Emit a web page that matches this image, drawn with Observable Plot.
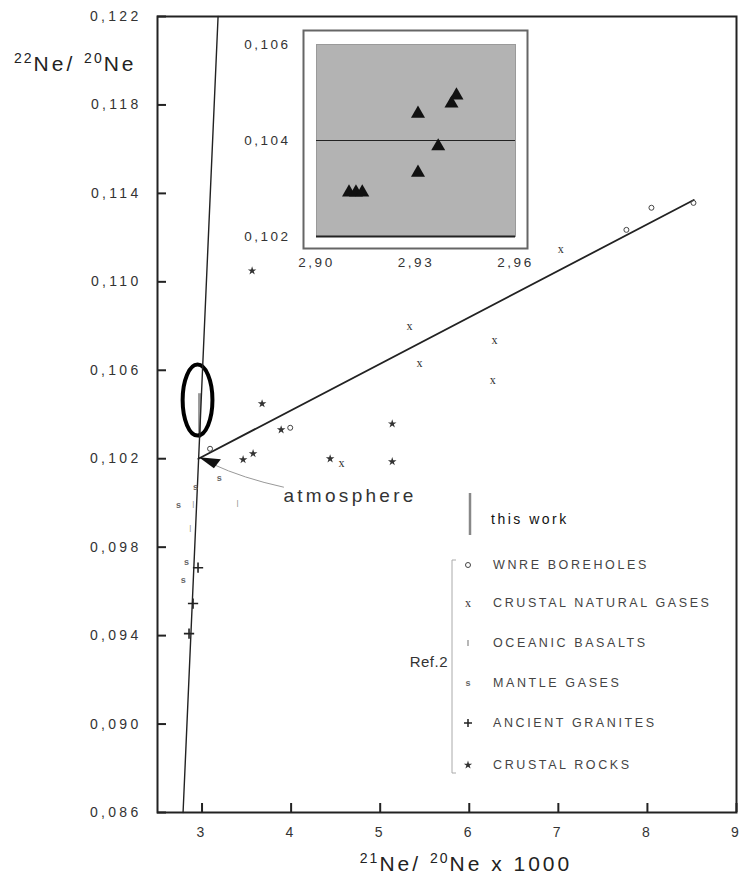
<!DOCTYPE html>
<html>
<head>
<meta charset="utf-8">
<script src="https://cdn.jsdelivr.net/npm/d3@7"></script>
<script src="https://cdn.jsdelivr.net/npm/@observablehq/plot@0.6"></script>
<style>
  html, body { margin: 0; padding: 0; background: #fff; overflow: hidden; }
  #wrap { position: relative; width: 740px; height: 879px; }
  #wrap > svg#main { position: absolute; left: 0; top: 0; }
  #wrap > svg#inset { position: absolute; left: 250px; top: 28px; }
  .title { position: absolute; font-family: "Liberation Sans", Arial, sans-serif; color: #222;
           white-space: nowrap; font-size: 21px; letter-spacing: 3px; line-height: 21px; }
  .title .sup { font-size: 14px; position: relative; top: -8px; letter-spacing: 2px; }
</style>
</head>
<body>
<div id="wrap"></div>
<script>
// Atmospheric neon composition (21Ne/20Ne x 1000, 22Ne/20Ne)
const atmosphere = {x: 2.959, y: 0.102};

// Mass-fractionation line and atmosphere–crust mixing line
const fractionationX = [2.787, 3.18];
const fractionationY = [0.086, 0.122];
const mixingX = [2.959, 8.52];
const mixingY = [0.102, 0.1137];

// Reference data (Ref. 2)
const groups = ["WNRE BOREHOLES", "CRUSTAL NATURAL GASES", "OCEANIC BASALTS",
                "MANTLE GASES", "ANCIENT GRANITES", "CRUSTAL ROCKS"];
const wnreX = [3.99, 3.09, 7.764, 8.045, 8.517];
const wnreY = [0.1034, 0.10245, 0.11235, 0.11335, 0.11357];
const gasX = [5.348, 5.461, 6.303, 6.281, 7.045, 4.584];
const gasY = [0.10801, 0.10630, 0.10734, 0.10557, 0.11149, 0.10182];
const basaltX = [3.416, 2.921, 2.888];
const basaltY = [0.10001, 0.09997, 0.09888];
const mantleX = [3.213, 2.753, 2.944, 2.843, 2.809];
const mantleY = [0.10114, 0.09988, 0.10073, 0.09734, 0.09653];
const graniteX = [2.955, 2.899, 2.854];
const graniteY = [0.09707, 0.09545, 0.09409];
const rockX = [3.674, 3.888, 3.461, 3.573, 4.438, 5.135, 5.135, 3.562];
const rockY = [0.10449, 0.10331, 0.10196, 0.10223, 0.10200, 0.10358, 0.10187, 0.1105];

// This work
const thisWorkX = [2.9098, 2.9119, 2.9138, 2.9306, 2.9367, 2.9306, 2.9407, 2.9422];
const thisWorkY = [0.10292, 0.10292, 0.10292, 0.10333, 0.10388, 0.10456, 0.10477, 0.10494];

// Ticks
const xTicks = [3, 4, 5, 6, 7, 8, 9];
const yTicks = [0.086, 0.090, 0.094, 0.098, 0.102, 0.106, 0.110, 0.114, 0.118, 0.122];
const insetXTicks = [2.90, 2.93, 2.96];
const insetYTicks = [0.102, 0.104, 0.106];

const comma = s => s.replace(".", ",");
const fmt3 = d => comma(d3.format(".3f")(d));
const fmt2 = d => comma(d3.format(".2f")(d));
const pts = (xs, ys) => xs.map((x, i) => ({x, y: ys[i]}));

// Elliptical outline used to circle this work's range
const ellipse = {
  draw(ctx, size) {
    const ry = Math.sqrt(size / Math.PI), rx = ry * 0.42, k = 0.5523;
    ctx.moveTo(rx, 0);
    ctx.bezierCurveTo(rx, k * ry, k * rx, ry, 0, ry);
    ctx.bezierCurveTo(-k * rx, ry, -rx, k * ry, -rx, 0);
    ctx.bezierCurveTo(-rx, -k * ry, -k * rx, -ry, 0, -ry);
    ctx.bezierCurveTo(k * rx, -ry, rx, -k * ry, rx, 0);
    ctx.closePath();
  }
};

const twMinY = d3.min(thisWorkY), twMaxY = d3.max(thisWorkY), twMeanX = d3.mean(thisWorkX);
const twCenter = [{x: twMeanX, y: (twMinY + twMaxY) / 2}];

// Legend glyphs, shared look with the plotted markers
function glyph(g, group, x, y) {
  const f = "Liberation Sans, Arial, sans-serif";
  switch (group) {
    case "WNRE BOREHOLES":
      g.append("circle").attr("cx", x).attr("cy", y).attr("r", 2.5)
        .attr("fill", "none").attr("stroke", "#444").attr("stroke-width", 1); break;
    case "CRUSTAL NATURAL GASES":
      g.append("text").attr("x", x).attr("y", y).attr("dy", "0.32em").attr("text-anchor", "middle")
        .attr("font-family", "Liberation Serif, serif").attr("font-size", 12).attr("letter-spacing", 0)
        .attr("fill", "#333").text("x"); break;
    case "OCEANIC BASALTS":
      g.append("line").attr("x1", x).attr("x2", x).attr("y1", y - 3).attr("y2", y + 3)
        .attr("stroke", "#888").attr("stroke-width", 1.2); break;
    case "MANTLE GASES":
      g.append("text").attr("x", x).attr("y", y).attr("dy", "0.32em").attr("text-anchor", "middle")
        .attr("font-family", f).attr("font-size", 9).attr("font-weight", "bold").attr("letter-spacing", 0)
        .attr("fill", "#666").text("s"); break;
    case "ANCIENT GRANITES":
      g.append("path").attr("d", "M-4,0H4M0,-4V4").attr("transform", `translate(${x},${y})`)
        .attr("fill", "none").attr("stroke", "#222").attr("stroke-width", 1.5); break;
    case "CRUSTAL ROCKS":
      g.append("path").attr("d", d3.symbol(d3.symbolStar, 22)()).attr("transform", `translate(${x},${y})`)
        .attr("fill", "#333"); break;
  }
}

const main = Plot.plot({
  width: 740,
  height: 879,
  marginTop: 16,
  marginBottom: 67,
  marginLeft: 157,
  marginRight: 4,
  style: {fontFamily: "Liberation Sans, Arial, sans-serif", fontSize: "14px", color: "#333",
          background: "transparent", letterSpacing: "3.3px", overflow: "visible"},
  x: {domain: [2.5, 9]},
  y: {domain: [0.086, 0.122]},
  marks: [
    Plot.axisX(xTicks, {tickSize: 0, tickPadding: 15, label: null, tickFormat: d => String(d)}),
    Plot.axisY(yTicks, {tickSize: 0, tickPadding: 16, label: null, tickFormat: fmt3}),

    // inward tick marks on both axes (short ticks hugging the frame)
    Plot.tickX(xTicks, {x: d => d, insetTop: 796 - 9, stroke: "#222", strokeWidth: 2}),
    Plot.tickY(yTicks, {y: d => d, insetRight: 579 - 9, stroke: "#222", strokeWidth: 2}),

    // this work: range bar circled by an ellipse
    Plot.ruleX([twMeanX], {x: d => d, y1: twMinY, y2: twMaxY, stroke: "#999", strokeWidth: 3, dx: 4}),
    Plot.dot(twCenter, {x: "x", y: "y", r: 35.5, symbol: ellipse, fill: "none", stroke: "#000",
                        strokeWidth: 4, dx: 2, dy: -16}),

    // lines
    Plot.line(pts(fractionationX, fractionationY), {x: "x", y: "y", stroke: "#222", strokeWidth: 1.4}),
    Plot.line(pts(mixingX, mixingY), {x: "x", y: "y", stroke: "#222", strokeWidth: 1.8}),

    // reference groups
    Plot.dot(pts(wnreX, wnreY), {x: "x", y: "y", r: 2.5, fill: "none", stroke: "#444", strokeWidth: 1}),
    Plot.text(pts(gasX, gasY), {x: "x", y: "y", text: () => "x", fontSize: 12,
                                fontFamily: "Liberation Serif, serif", fill: "#333"}),
    Plot.text(pts(basaltX, basaltY), {x: "x", y: "y", text: () => "|", fontSize: 8, fill: "#888"}),
    Plot.text(pts(mantleX, mantleY), {x: "x", y: "y", text: () => "s", fontSize: 9, fontWeight: "bold", fill: "#666"}),
    Plot.dot(pts(graniteX, graniteY), {x: "x", y: "y", symbol: "plus", r: 3.4, stroke: "#222", strokeWidth: 1.6}),
    Plot.dot(pts(rockX, rockY), {x: "x", y: "y", symbol: "star", r: 2.7, fill: "#333"}),

    // atmosphere label with leader and arrowhead
    Plot.text([atmosphere], {x: "x", y: "y", text: () => "atmosphere", dx: 85, dy: 37,
                             textAnchor: "start", fontSize: 19, fill: "#333"}),
    (index, scales) => {
      const X = scales.x(atmosphere.x), Y = scales.y(atmosphere.y);
      const g = d3.create("svg:g");
      g.append("path")
        .attr("d", `M${X + 86},${Y + 29} Q${X + 45},${Y + 20} ${X + 15},${Y + 6}`)
        .attr("fill", "none").attr("stroke", "#999").attr("stroke-width", 1);
      g.append("path")
        .attr("d", `M${X + 1},${Y - 1} L${X + 23},${Y + 1} L${X + 16},${Y + 10} Z`)
        .attr("fill", "#111");
      return g.node();
    },

    // legend
    () => {
      const g = d3.create("svg:g").attr("font-family", "Liberation Sans, Arial, sans-serif");
      const mx = 468, tx = 493;
      g.append("line").attr("x1", 470).attr("x2", 470).attr("y1", 493).attr("y2", 535)
        .attr("stroke", "#888").attr("stroke-width", 2.5);
      g.append("text").attr("x", 491).attr("y", 519).attr("dy", "0.35em").attr("text-anchor", "start")
        .attr("font-size", 14).attr("letter-spacing", "2.5px").attr("fill", "#111").text("this work");
      const rows = [565, 603, 643, 683, 723, 765];
      groups.forEach((name, i) => {
        glyph(g, name, mx, rows[i]);
        g.append("text").attr("x", tx).attr("y", rows[i]).attr("dy", "0.35em").attr("text-anchor", "start")
          .attr("font-size", 12.5).attr("letter-spacing", "2.6px").attr("fill", "#444").text(name);
      });
      g.append("path").attr("d", "M456,560 H452 V773 H456").attr("fill", "none")
        .attr("stroke", "#aaa").attr("stroke-width", 1);
      g.append("text").attr("x", 448).attr("y", 662).attr("dy", "0.35em").attr("text-anchor", "end")
        .attr("font-size", 15).attr("letter-spacing", "0.5px").attr("fill", "#333").text("Ref.2");
      return g.node();
    },

    Plot.frame({stroke: "#222", strokeWidth: 2})
  ]
});
main.id = "main";

const inset = Plot.plot({
  width: 280,
  height: 250,
  marginLeft: 66,
  marginRight: 15,
  marginTop: 16,
  marginBottom: 42,
  style: {fontFamily: "Liberation Sans, Arial, sans-serif", fontSize: "13.5px", color: "#333",
          background: "transparent", letterSpacing: "2.5px", overflow: "visible"},
  x: {domain: [2.90, 2.96]},
  y: {domain: [0.102, 0.106]},
  marks: [
    Plot.frame({insetLeft: -13, insetRight: -12, insetTop: -14, insetBottom: -12,
                fill: "#fff", stroke: "#666", strokeWidth: 2}),
    Plot.frame({fill: "#b3b3b3", stroke: "#9a9a9a", strokeWidth: 1}),
    Plot.ruleY([0.104], {y: d => d, stroke: "#222", strokeWidth: 1}),
    Plot.ruleY([0.102], {y: d => d, stroke: "#222", strokeWidth: 2}),
    Plot.axisX(insetXTicks, {tickSize: 0, tickPadding: 21, label: null, tickFormat: fmt2}),
    Plot.axisY(insetYTicks, {tickSize: 0, tickPadding: 26, label: null, tickFormat: fmt3}),
    Plot.dot(pts(thisWorkX, thisWorkY), {x: "x", y: "y", symbol: "triangle", r: 5.2, fill: "#111"})
  ]
});
inset.id = "inset";

const wrap = document.getElementById("wrap");
wrap.appendChild(main);
wrap.appendChild(inset);

// axis titles with superscript mass numbers
const yTitle = document.createElement("div");
yTitle.className = "title";
yTitle.style.left = "14px";
yTitle.style.top = "53px";
yTitle.innerHTML = '<span class="sup">22</span>Ne/ <span class="sup">20</span>Ne';
wrap.appendChild(yTitle);

const xTitle = document.createElement("div");
xTitle.className = "title";
xTitle.style.left = "466px";
xTitle.style.top = "853px";
xTitle.style.transform = "translateX(-50%)";
xTitle.innerHTML = '<span class="sup">21</span>Ne/ <span class="sup">20</span>Ne x 1000';
wrap.appendChild(xTitle);
</script>
</body>
</html>
